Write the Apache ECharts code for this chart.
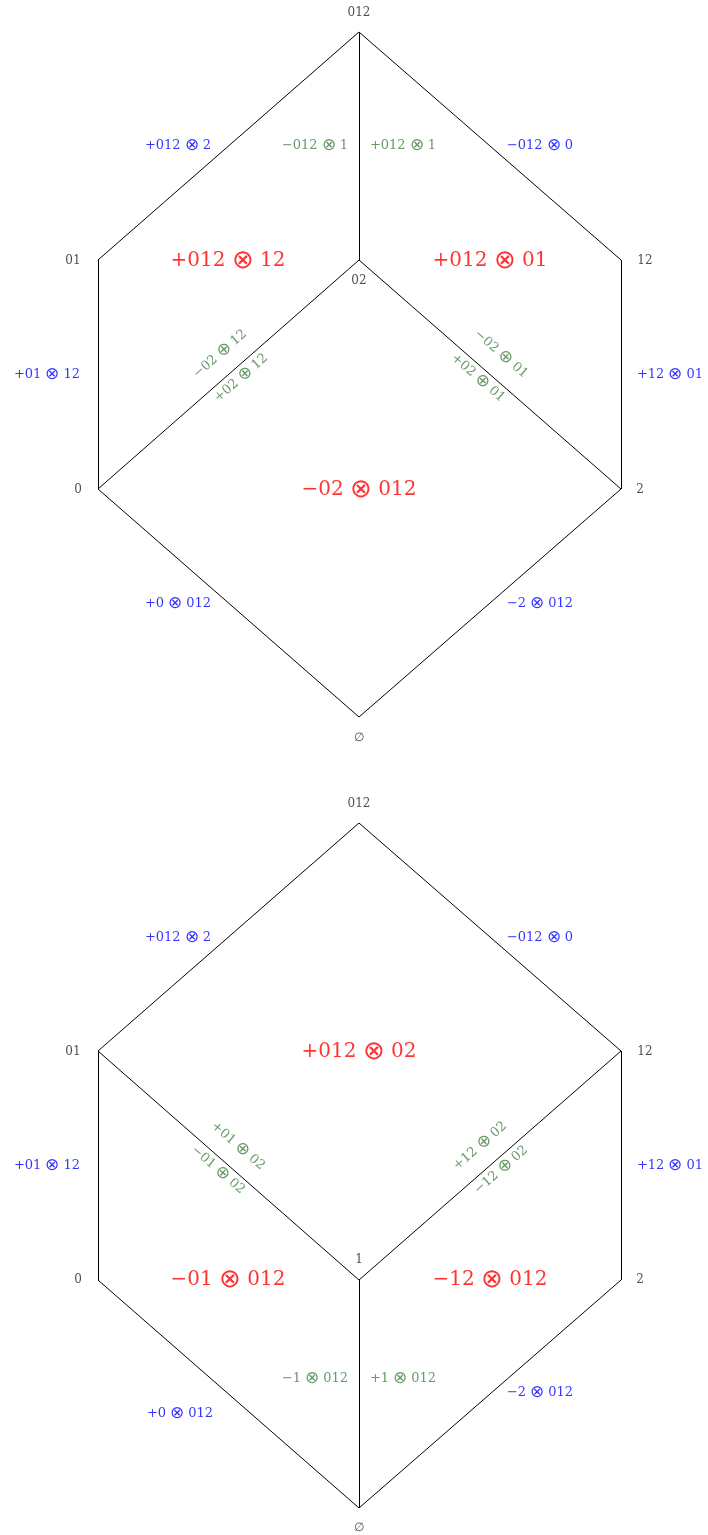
<!DOCTYPE html>
<html>
<head>
<meta charset="utf-8">
<script src="https://cdn.jsdelivr.net/npm/echarts@6/dist/echarts.min.js"></script>
<style>
html, body { margin: 0; padding: 0; background: #fff; }
#main { width: 708px; height: 1535px; }
</style>
</head>
<body>
<div id="main"></div>
<script>
// 顶点坐标 (两个六边形, 下图整体下移 791)
var dy = 791;
var vertTop = {
    '012': [359, 32], '01': [98, 260], '12': [621, 260], '02': [359, 260],
    '0': [98, 489], '2': [621, 489], 'e': [359, 717]
};
var vertBot = {
    '012': [359, 32 + dy], '01': [98, 260 + dy], '12': [621, 260 + dy], '1': [359, 489 + dy],
    '0': [98, 489 + dy], '2': [621, 489 + dy], 'e': [359, 717 + dy]
};
var edgesTop = [['012', '01'], ['012', '12'], ['012', '02'], ['01', '0'], ['12', '2'],
    ['0', 'e'], ['2', 'e'], ['0', '02'], ['02', '2']];
var edgesBot = [['012', '01'], ['012', '12'], ['01', '0'], ['12', '2'], ['0', 'e'],
    ['2', 'e'], ['01', '1'], ['12', '1'], ['1', 'e']];

// 顶点名称标签 [文字, x, y]
var vertexLabels = [
    ['012', 359, 13], ['01', 73, 261], ['12', 645, 261], ['0', 78, 490], ['2', 640, 490],
    ['\u2205', 359, 738], ['02', 359, 281],
    ['012', 359, 804], ['01', 73, 1052], ['12', 645, 1052], ['0', 78, 1280], ['2', 640, 1280],
    ['\u2205', 359, 1528], ['1', 359, 1260]
];
// 蓝色 (外边)
var blueLabels = [
    ['+012 \u2297 2', 178, 146], ['\u2212012 \u2297 0', 540, 146],
    ['+01 \u2297 12', 47, 375], ['+12 \u2297 01', 670, 375],
    ['+0 \u2297 012', 178, 604], ['\u22122 \u2297 012', 540, 604],
    ['+012 \u2297 2', 178, 938], ['\u2212012 \u2297 0', 540, 938],
    ['+01 \u2297 12', 47, 1166], ['+12 \u2297 01', 670, 1166],
    ['+0 \u2297 012', 180, 1414], ['\u22122 \u2297 012', 540, 1393]
];
// 红色 (面)
var redLabels = [
    ['+012 \u2297 12', 228, 261], ['+012 \u2297 01', 490, 261], ['\u221202 \u2297 012', 359, 490],
    ['+012 \u2297 02', 359, 1052], ['\u221201 \u2297 012', 228, 1280], ['\u221212 \u2297 012', 490, 1280]
];
// 绿色 (内边) [文字, x, y, 角度]
var greenLabels = [
    ['\u2212012 \u2297 1', 315, 146, 0], ['+012 \u2297 1', 403, 146, 0],
    ['\u221202 \u2295 12', 220, 354, 41], ['+02 \u2295 12', 241, 378, 41],
    ['\u221202 \u2295 01', 501, 354, -41], ['+02 \u2295 01', 478, 378, -41],
    ['+01 \u2295 02', 238, 1146, -41], ['\u221201 \u2295 02', 218, 1170, -41],
    ['+12 \u2295 02', 480, 1146, 41], ['\u221212 \u2295 02', 501, 1170, 41],
    ['\u22121 \u2297 012', 315, 1379, 0], ['+1 \u2297 012', 403, 1379, 0]
];

var FONT = 'DejaVu Serif';

function edgeData(edges, vert) {
    return edges.map(function (e) {
        return { coords: [vert[e[0]], vert[e[1]]] };
    });
}

// ⊗ / ⊕ 单独设置字体, 细一点
function richText(s) {
    return s.replace(/([\u2297\u2295])/g, '{o|$1}');
}

function labelSeries(list, color, size) {
    return {
        type: 'scatter',
        symbolSize: 0,
        silent: true,
        data: list.map(function (d) {
            return {
                value: [d[1], d[2]],
                name: d[0],
                label: { rotate: d[3] || 0 }
            };
        }),
        label: {
            show: true,
            position: 'inside',
            formatter: function (p) { return richText(p.name); },
            color: color,
            fontSize: size,
            fontFamily: FONT,
            rich: {
                o: { color: color, fontSize: Math.round(size * 1.3), fontFamily: 'DejaVu Sans', fontWeight: 200 }
            }
        }
    };
}

var myChart = echarts.init(document.getElementById('main'));
var option = {
    backgroundColor: '#fff',
    animation: false,
    grid: { left: 0, right: 0, top: 0, bottom: 0 },
    xAxis: { type: 'value', min: 0, max: 708, show: false },
    yAxis: { type: 'value', min: 0, max: 1535, inverse: true, show: false },
    series: [
        {
            type: 'lines',
            coordinateSystem: 'cartesian2d',
            silent: true,
            lineStyle: { color: '#000', width: 1, opacity: 1 },
            data: edgeData(edgesTop, vertTop).concat(edgeData(edgesBot, vertBot))
        },
        labelSeries(vertexLabels, '#222', 12),
        labelSeries(blueLabels, '#0000ff', 13),
        labelSeries(greenLabels, '#3f7f3f', 13),
        labelSeries(redLabels, '#ff0000', 20)
    ]
};
myChart.setOption(option);
</script>
</body>
</html>
